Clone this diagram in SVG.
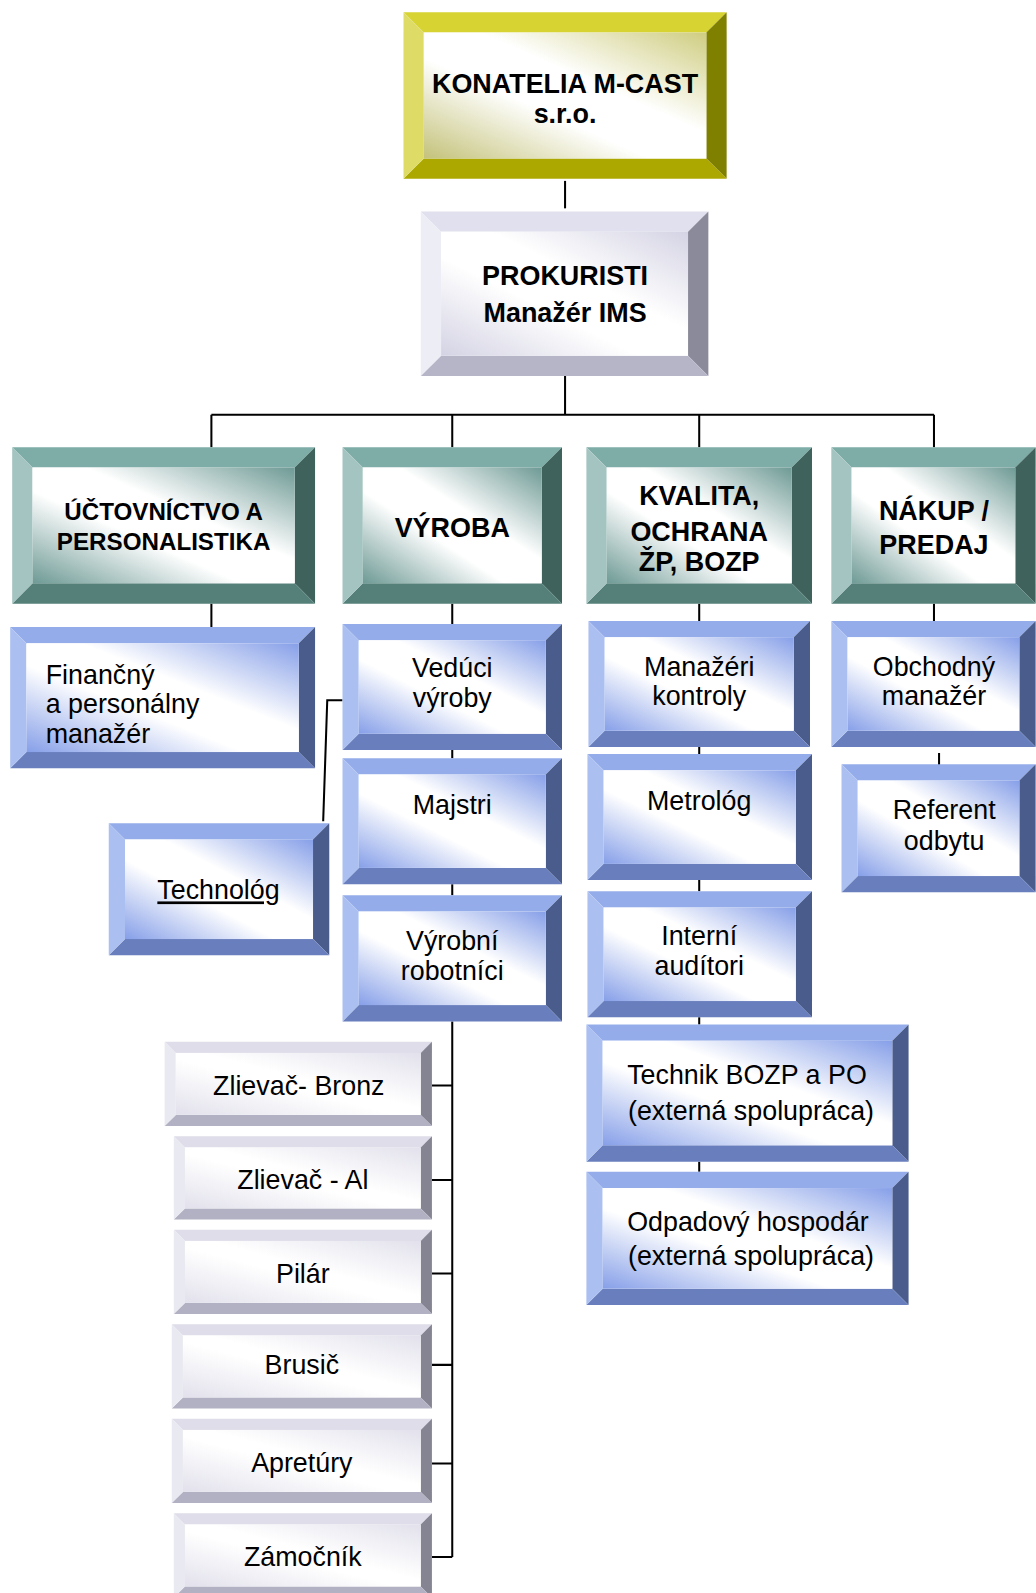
<svg xmlns="http://www.w3.org/2000/svg" width="1036" height="1593" viewBox="0 0 1036 1593">
<style>
text{font-family:"Liberation Sans",Arial,sans-serif;fill:#000;text-anchor:middle}
.bd{font-weight:bold;font-size:26.5px}
.bs{font-weight:bold;font-size:23.8px}
.rg{font-size:26.4px}
.yl .t{fill:#d7d333}.yl .l{fill:#dedb66}.yl .r{fill:#808000}.yl .b{fill:#aca800}.yl .f{fill:url(#gY)}
.pr .t{fill:#e1e0ee}.pr .l{fill:#ededf5}.pr .r{fill:#8b8a9a}.pr .b{fill:#b6b5c8}.pr .f{fill:url(#gP)}
.gr .t{fill:#7eaca7}.gr .l{fill:#a3c4c0}.gr .r{fill:#3f625d}.gr .b{fill:#557f79}.gr .f{fill:url(#gG)}
.bl .t{fill:#94adea}.bl .l{fill:#abc0f1}.bl .r{fill:#4a5c8b}.bl .b{fill:#687ebd}.bl .f{fill:url(#gB)}
.wk .t{fill:#dedde9}.wk .l{fill:#e9e9f1}.wk .r{fill:#858493}.wk .b{fill:#b2b1c3}.wk .f{fill:url(#gW)}
.cn{fill:none;stroke:#000;stroke-width:2}
</style>
<defs>
<linearGradient id="gY" x1="1" y1="0" x2="0" y2="1"><stop offset="0" stop-color="#cfcd80"/><stop offset="0.4" stop-color="#fff"/><stop offset="0.6" stop-color="#fff"/><stop offset="1" stop-color="#c4c27a"/></linearGradient>
<linearGradient id="gP" x1="1" y1="0" x2="0" y2="1"><stop offset="0" stop-color="#d4d3e4"/><stop offset="0.4" stop-color="#fff"/><stop offset="0.6" stop-color="#fff"/><stop offset="1" stop-color="#d4d3e4"/></linearGradient>
<linearGradient id="gG" x1="1" y1="0" x2="0" y2="1"><stop offset="0" stop-color="#6e9a95"/><stop offset="0.4" stop-color="#fff"/><stop offset="0.6" stop-color="#fff"/><stop offset="1" stop-color="#6e9a95"/></linearGradient>
<linearGradient id="gB" x1="1" y1="0" x2="0" y2="1"><stop offset="0" stop-color="#869fe8"/><stop offset="0.4" stop-color="#fff"/><stop offset="0.6" stop-color="#fff"/><stop offset="1" stop-color="#869fe8"/></linearGradient>
<linearGradient id="gW" x1="1" y1="0" x2="0" y2="1"><stop offset="0" stop-color="#e2e1ec"/><stop offset="0.45" stop-color="#fff"/><stop offset="0.55" stop-color="#fff"/><stop offset="1" stop-color="#e2e1ec"/></linearGradient>
</defs>
<g transform="scale(1.0163)">
<g id="connectors">
<path class="cn" d="M556,178 V205"/>
<path class="cn" d="M556,370 V408 M208,408 H919 M208,408 V440 M445,408 V440 M688,408 V440 M919,408 V440"/>
<path class="cn" d="M208,594 V617"/>
<path class="cn" d="M445,594 V614 M445,738 V746 M445,870 V881"/>
<path class="cn" d="M337,689 H322 L318,808"/>
<path class="cn" d="M445,1005 V1532 M425,1068 H445 M425,1161 H445 M425,1253 H445 M425,1343 H445 M425,1440 H445 M425,1532 H445"/>
<path class="cn" d="M688,594 V611 M688,735 V742 M688,866 V877 M688,1001 V1008 M688,1143 V1153"/>
<path class="cn" d="M919,594 V611 M924,741 V756"/>
</g>

<g id="konatelia" class="yl">
<polygon class="t" points="397,12 715,12 695,32 417,32"/>
<polygon class="r" points="715,12 715,176 695,156 695,32"/>
<polygon class="b" points="397,176 715,176 695,156 417,156"/>
<polygon class="l" points="397,12 417,32 417,156 397,176"/>
<rect class="f" x="417" y="32" width="278" height="124"/>
<text class="bd" x="556" y="92">KONATELIA M-CAST</text>
<text class="bd" x="556" y="121">s.r.o.</text>
</g>

<g id="prokuristi" class="pr">
<polygon class="t" points="414,208 697,208 677,228 434,228"/>
<polygon class="r" points="697,208 697,370 677,350 677,228"/>
<polygon class="b" points="414,370 697,370 677,350 434,350"/>
<polygon class="l" points="414,208 434,228 434,350 414,370"/>
<rect class="f" x="434" y="228" width="243" height="122"/>
<text class="bd" x="556" y="280">PROKURISTI</text>
<text class="bd" x="556" y="317">Manažér IMS</text>
</g>

<g id="uctovnictvo" class="gr">
<polygon class="t" points="12,440 310,440 290,460 32,460"/>
<polygon class="r" points="310,440 310,594 290,574 290,460"/>
<polygon class="b" points="12,594 310,594 290,574 32,574"/>
<polygon class="l" points="12,440 32,460 32,574 12,594"/>
<rect class="f" x="32" y="460" width="258" height="114"/>
<text class="bs" x="161" y="512">ÚČTOVNÍCTVO A</text>
<text class="bs" x="161" y="541">PERSONALISTIKA</text>
</g>

<g id="vyroba" class="gr">
<polygon class="t" points="337,440 553,440 533,460 357,460"/>
<polygon class="r" points="553,440 553,594 533,574 533,460"/>
<polygon class="b" points="337,594 553,594 533,574 357,574"/>
<polygon class="l" points="337,440 357,460 357,574 337,594"/>
<rect class="f" x="357" y="460" width="176" height="114"/>
<text class="bd" x="445" y="528">VÝROBA</text>
</g>

<g id="kvalita" class="gr">
<polygon class="t" points="577,440 799,440 779,460 597,460"/>
<polygon class="r" points="799,440 799,594 779,574 779,460"/>
<polygon class="b" points="577,594 799,594 779,574 597,574"/>
<polygon class="l" points="577,440 597,460 597,574 577,594"/>
<rect class="f" x="597" y="460" width="182" height="114"/>
<text class="bd" x="688" y="497">KVALITA,</text>
<text class="bd" x="688" y="532">OCHRANA</text>
<text class="bd" x="688" y="562">ŽP, BOZP</text>
</g>

<g id="nakup" class="gr">
<polygon class="t" points="818,440 1019,440 999,460 838,460"/>
<polygon class="r" points="1019,440 1019,594 999,574 999,460"/>
<polygon class="b" points="818,594 1019,594 999,574 838,574"/>
<polygon class="l" points="818,440 838,460 838,574 818,594"/>
<rect class="f" x="838" y="460" width="161" height="114"/>
<text class="bd" x="919" y="512">NÁKUP /</text>
<text class="bd" x="919" y="545">PREDAJ</text>
</g>

<g id="financny" class="bl">
<polygon class="t" points="10,617 310,617 294,633 26,633"/>
<polygon class="r" points="310,617 310,756 294,740 294,633"/>
<polygon class="b" points="10,756 310,756 294,740 26,740"/>
<polygon class="l" points="10,617 26,633 26,740 10,756"/>
<rect class="f" x="26" y="633" width="268" height="107"/>
<text class="rg" x="45" y="673" style="text-anchor:start">Finančný</text>
<text class="rg" x="45" y="702" style="text-anchor:start">a personálny</text>
<text class="rg" x="45" y="731" style="text-anchor:start">manažér</text>
</g>

<g id="veduci" class="bl">
<polygon class="t" points="337,614 553,614 537,630 353,630"/>
<polygon class="r" points="553,614 553,738 537,722 537,630"/>
<polygon class="b" points="337,738 553,738 537,722 353,722"/>
<polygon class="l" points="337,614 353,630 353,722 337,738"/>
<rect class="f" x="353" y="630" width="184" height="92"/>
<text class="rg" x="445" y="666">Vedúci</text>
<text class="rg" x="445" y="696">výroby</text>
</g>

<g id="majstri" class="bl">
<polygon class="t" points="337,746 553,746 537,762 353,762"/>
<polygon class="r" points="553,746 553,870 537,854 537,762"/>
<polygon class="b" points="337,870 553,870 537,854 353,854"/>
<polygon class="l" points="337,746 353,762 353,854 337,870"/>
<rect class="f" x="353" y="762" width="184" height="92"/>
<text class="rg" x="445" y="801">Majstri</text>
</g>

<g id="robotnici" class="bl">
<polygon class="t" points="337,881 553,881 537,897 353,897"/>
<polygon class="r" points="553,881 553,1005 537,989 537,897"/>
<polygon class="b" points="337,1005 553,1005 537,989 353,989"/>
<polygon class="l" points="337,881 353,897 353,989 337,1005"/>
<rect class="f" x="353" y="897" width="184" height="92"/>
<text class="rg" x="445" y="935">Výrobní</text>
<text class="rg" x="445" y="964">robotníci</text>
</g>

<g id="technolog" class="bl">
<polygon class="t" points="107,810 324,810 308,826 123,826"/>
<polygon class="r" points="324,810 324,940 308,924 308,826"/>
<polygon class="b" points="107,940 324,940 308,924 123,924"/>
<polygon class="l" points="107,810 123,826 123,924 107,940"/>
<rect class="f" x="123" y="826" width="185" height="98"/>
<text class="rg" x="215" y="885" text-decoration="underline">Technológ</text>
</g>

<g id="manazeri" class="bl">
<polygon class="t" points="579,611 797,611 781,627 595,627"/>
<polygon class="r" points="797,611 797,735 781,719 781,627"/>
<polygon class="b" points="579,735 797,735 781,719 595,719"/>
<polygon class="l" points="579,611 595,627 595,719 579,735"/>
<rect class="f" x="595" y="627" width="186" height="92"/>
<text class="rg" x="688" y="665">Manažéri</text>
<text class="rg" x="688" y="694">kontroly</text>
</g>

<g id="metrolog" class="bl">
<polygon class="t" points="578,742 799,742 783,758 594,758"/>
<polygon class="r" points="799,742 799,866 783,850 783,758"/>
<polygon class="b" points="578,866 799,866 783,850 594,850"/>
<polygon class="l" points="578,742 594,758 594,850 578,866"/>
<rect class="f" x="594" y="758" width="189" height="92"/>
<text class="rg" x="688" y="797">Metrológ</text>
</g>

<g id="auditori" class="bl">
<polygon class="t" points="578,877 799,877 783,893 594,893"/>
<polygon class="r" points="799,877 799,1001 783,985 783,893"/>
<polygon class="b" points="578,1001 799,1001 783,985 594,985"/>
<polygon class="l" points="578,877 594,893 594,985 578,1001"/>
<rect class="f" x="594" y="893" width="189" height="92"/>
<text class="rg" x="688" y="930">Interní</text>
<text class="rg" x="688" y="959">audítori</text>
</g>

<g id="technik" class="bl">
<polygon class="t" points="577,1008 894,1008 878,1024 593,1024"/>
<polygon class="r" points="894,1008 894,1143 878,1127 878,1024"/>
<polygon class="b" points="577,1143 894,1143 878,1127 593,1127"/>
<polygon class="l" points="577,1008 593,1024 593,1127 577,1143"/>
<rect class="f" x="593" y="1024" width="285" height="103"/>
<text class="rg" x="735" y="1067">Technik BOZP a PO</text>
<text class="rg" x="739" y="1102">(externá spolupráca)</text>
</g>

<g id="odpadovy" class="bl">
<polygon class="t" points="577,1153 894,1153 878,1169 593,1169"/>
<polygon class="r" points="894,1153 894,1284 878,1268 878,1169"/>
<polygon class="b" points="577,1284 894,1284 878,1268 593,1268"/>
<polygon class="l" points="577,1153 593,1169 593,1268 577,1284"/>
<rect class="f" x="593" y="1169" width="285" height="99"/>
<text class="rg" x="736" y="1211">Odpadový hospodár</text>
<text class="rg" x="739" y="1245">(externá spolupráca)</text>
</g>

<g id="obchodny" class="bl">
<polygon class="t" points="818,611 1019,611 1003,627 834,627"/>
<polygon class="r" points="1019,611 1019,735 1003,719 1003,627"/>
<polygon class="b" points="818,735 1019,735 1003,719 834,719"/>
<polygon class="l" points="818,611 834,627 834,719 818,735"/>
<rect class="f" x="834" y="627" width="169" height="92"/>
<text class="rg" x="919" y="665">Obchodný</text>
<text class="rg" x="919" y="694">manažér</text>
</g>

<g id="referent" class="bl">
<polygon class="t" points="828,752 1019,752 1003,768 844,768"/>
<polygon class="r" points="1019,752 1019,878 1003,862 1003,768"/>
<polygon class="b" points="828,878 1019,878 1003,862 844,862"/>
<polygon class="l" points="828,752 844,768 844,862 828,878"/>
<rect class="f" x="844" y="768" width="159" height="94"/>
<text class="rg" x="929" y="806">Referent</text>
<text class="rg" x="929" y="836">odbytu</text>
</g>

<g id="zlievac-bronz" class="wk">
<polygon class="t" points="162,1025 425,1025 414,1036 173,1036"/>
<polygon class="r" points="425,1025 425,1108 414,1097 414,1036"/>
<polygon class="b" points="162,1108 425,1108 414,1097 173,1097"/>
<polygon class="l" points="162,1025 173,1036 173,1097 162,1108"/>
<rect class="f" x="173" y="1036" width="241" height="61"/>
<text class="rg" x="294" y="1077">Zlievač- Bronz</text>
</g>

<g id="zlievac-al" class="wk">
<polygon class="t" points="171,1118 425,1118 414,1129 182,1129"/>
<polygon class="r" points="425,1118 425,1200 414,1189 414,1129"/>
<polygon class="b" points="171,1200 425,1200 414,1189 182,1189"/>
<polygon class="l" points="171,1118 182,1129 182,1189 171,1200"/>
<rect class="f" x="182" y="1129" width="232" height="60"/>
<text class="rg" x="298" y="1170">Zlievač - Al</text>
</g>

<g id="pilar" class="wk">
<polygon class="t" points="171,1210 425,1210 414,1221 182,1221"/>
<polygon class="r" points="425,1210 425,1293 414,1282 414,1221"/>
<polygon class="b" points="171,1293 425,1293 414,1282 182,1282"/>
<polygon class="l" points="171,1210 182,1221 182,1282 171,1293"/>
<rect class="f" x="182" y="1221" width="232" height="61"/>
<text class="rg" x="298" y="1262">Pilár</text>
</g>

<g id="brusic" class="wk">
<polygon class="t" points="169,1303 425,1303 414,1314 180,1314"/>
<polygon class="r" points="425,1303 425,1386 414,1375 414,1314"/>
<polygon class="b" points="169,1386 425,1386 414,1375 180,1375"/>
<polygon class="l" points="169,1303 180,1314 180,1375 169,1386"/>
<rect class="f" x="180" y="1314" width="234" height="61"/>
<text class="rg" x="297" y="1352">Brusič</text>
</g>

<g id="apretury" class="wk">
<polygon class="t" points="169,1396 425,1396 414,1407 180,1407"/>
<polygon class="r" points="425,1396 425,1479 414,1468 414,1407"/>
<polygon class="b" points="169,1479 425,1479 414,1468 180,1468"/>
<polygon class="l" points="169,1396 180,1407 180,1468 169,1479"/>
<rect class="f" x="180" y="1407" width="234" height="61"/>
<text class="rg" x="297" y="1448">Apretúry</text>
</g>

<g id="zamocnik" class="wk">
<polygon class="t" points="171,1489 425,1489 414,1500 182,1500"/>
<polygon class="r" points="425,1489 425,1572 414,1561 414,1500"/>
<polygon class="b" points="171,1572 425,1572 414,1561 182,1561"/>
<polygon class="l" points="171,1489 182,1500 182,1561 171,1572"/>
<rect class="f" x="182" y="1500" width="232" height="61"/>
<text class="rg" x="298" y="1541">Zámočník</text>
</g>
</g>
</svg>
